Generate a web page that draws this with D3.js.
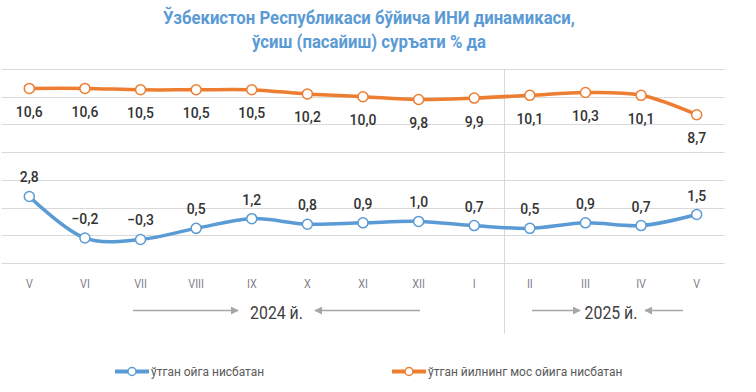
<!DOCTYPE html>
<html>
<head>
<meta charset="utf-8">
<script src="https://cdn.jsdelivr.net/npm/d3@7"></script>
<style>
  body { margin: 0; background: #fff; }
  text { font-family: Roboto, "Noto Sans", sans-serif; }
</style>
</head>
<body>
<div class="chart"></div>
<script>
// chart data
var months = ["V", "VI", "VII", "VIII", "IX", "X", "XI", "XII", "I", "II", "III", "IV", "V"];
var momValues = [2.8, -0.2, -0.3, 0.5, 1.2, 0.8, 0.9, 1.0, 0.7, 0.5, 0.9, 0.7, 1.5];
var yoyValues = [10.6, 10.6, 10.5, 10.5, 10.5, 10.2, 10.0, 9.8, 9.9, 10.1, 10.3, 10.1, 8.7];
var yTicks = [-2, 0, 2, 4, 6, 8, 10, 12];
var titleLines = ["Ўзбекистон Республикаси бўйича ИНИ динамикаси,", "ўсиш (пасайиш) суръати % да"];
var seriesNames = ["ўтган ойга нисбатан", "ўтган йилнинг мос ойига нисбатан"];

var svgWidth = 756;
var svgHeight = 392;

var blue = "#5b9bd5";
var orange = "#ed7d31";

var svg = d3.select(".chart")
  .append("svg")
  .attr("width", svgWidth)
  .attr("height", svgHeight);

// title
svg.selectAll(".title")
  .data(titleLines)
  .enter()
  .append("text")
  .attr("transform", (d, i) => `translate(369, ${24 + i * 24}) scale(0.93,1)`)
  .attr("text-anchor", "middle")
  .attr("font-size", 18)
  .attr("font-weight", "bold")
  .attr("fill", blue)
  .text(d => d);

// scales
var idx = d3.range(months.length);
var xScale = d3.scalePoint()
  .domain(idx)
  .range([1.5, 724.5])
  .padding(0.5);
var step = xScale.step();

var yScale = d3.scaleLinear()
  .domain([-2, 12])
  .range([263, 69]);

// gridlines
svg.append("g")
  .selectAll("line")
  .data(yTicks)
  .enter()
  .append("line")
  .attr("x1", 1.5)
  .attr("x2", 724.5)
  .attr("y1", d => Math.round(yScale(d)) + 0.5)
  .attr("y2", d => Math.round(yScale(d)) + 0.5)
  .attr("stroke", "#d9d9d9")
  .attr("stroke-width", 1);

// year separator between I and II
var sepX = Math.round(xScale(8) + step / 2) + 2.5;
svg.append("line")
  .attr("x1", sepX).attr("x2", sepX)
  .attr("y1", 69).attr("y2", 334)
  .attr("stroke", "#d9d9d9")
  .attr("stroke-width", 1);

// x tick labels
svg.append("g")
  .selectAll("text")
  .data(idx)
  .enter()
  .append("text")
  .attr("transform", d => `translate(${xScale(d)}, 287.5) scale(0.9,1)`)
  .attr("text-anchor", "middle")
  .attr("font-size", 12)
  .attr("fill", "#7f7f8a")
  .text(d => months[d]);

// lines
var line = d3.line()
  .x((d, i) => xScale(i))
  .y(d => yScale(d))
  .curve(d3.curveCatmullRom.alpha(0.5));

function drawSeries(values, color, labelDy) {
  svg.append("path")
    .datum(values)
    .attr("d", line)
    .attr("fill", "none")
    .attr("stroke", color)
    .attr("stroke-width", 3.5)
    .attr("stroke-linejoin", "round");

  svg.append("g")
    .selectAll("circle")
    .data(values)
    .enter()
    .append("circle")
    .attr("cx", (d, i) => xScale(i))
    .attr("cy", d => yScale(d))
    .attr("r", 5)
    .attr("fill", "#fff")
    .attr("stroke", color)
    .attr("stroke-width", 1.5);

  svg.append("g")
    .selectAll("text")
    .data(values)
    .enter()
    .append("text")
    .attr("transform", (d, i) => `translate(${xScale(i)}, ${yScale(d) + labelDy}) scale(0.9,1)`)
    .attr("text-anchor", "middle")
    .attr("font-size", 15.5)
    .attr("font-weight", 500)
    .attr("fill", "#333")
    .text(d => d3.format(".1f")(d).replace(".", ","));
}

drawSeries(yoyValues, orange, 28.5);
drawSeries(momValues, blue, -14);

// year annotations with arrows
var defs = svg.append("defs");
defs.append("marker")
  .attr("id", "arrow")
  .attr("viewBox", "0 0 10 10")
  .attr("refX", 9)
  .attr("refY", 5)
  .attr("markerWidth", 8)
  .attr("markerHeight", 8)
  .attr("markerUnits", "userSpaceOnUse")
  .attr("orient", "auto")
  .append("path")
  .attr("d", "M0,0 L10,5 L0,10 z")
  .attr("fill", "#a6a6a6");

var arrows = [[133, 238], [420, 315], [532, 580], [683, 645]];
svg.append("g")
  .selectAll("line")
  .data(arrows)
  .enter()
  .append("line")
  .attr("x1", d => d[0])
  .attr("x2", d => d[1])
  .attr("y1", 310.5)
  .attr("y2", 310.5)
  .attr("stroke", "#a6a6a6")
  .attr("stroke-width", 1.5)
  .attr("marker-end", "url(#arrow)");

var yearLabels = [["2024 й.", 276.5], ["2025 й.", 611]];
svg.append("g")
  .selectAll("text")
  .data(yearLabels)
  .enter()
  .append("text")
  .attr("transform", d => `translate(${d[1]}, 318.5) scale(0.88,1)`)
  .attr("text-anchor", "middle")
  .attr("font-size", 18)
  .attr("fill", "#404040")
  .text(d => d[0]);

// legend
var legendItems = [
  { name: seriesNames[0], color: blue, x: 115 },
  { name: seriesNames[1], color: orange, x: 392 }
];
var legend = svg.append("g")
  .selectAll("g")
  .data(legendItems)
  .enter()
  .append("g")
  .attr("transform", d => `translate(${d.x}, 371.5)`);

legend.append("line")
  .attr("x1", 0).attr("x2", 34)
  .attr("stroke", d => d.color)
  .attr("stroke-width", 4);

legend.append("circle")
  .attr("cx", 17)
  .attr("r", 4)
  .attr("fill", "#fff")
  .attr("stroke", d => d.color)
  .attr("stroke-width", 1.5);

legend.append("text")
  .attr("transform", "translate(36, 4.5) scale(0.9,1)")
  .attr("font-size", 13.3)
  .attr("fill", "#595959")
  .text(d => d.name);
</script>
</body>
</html>
